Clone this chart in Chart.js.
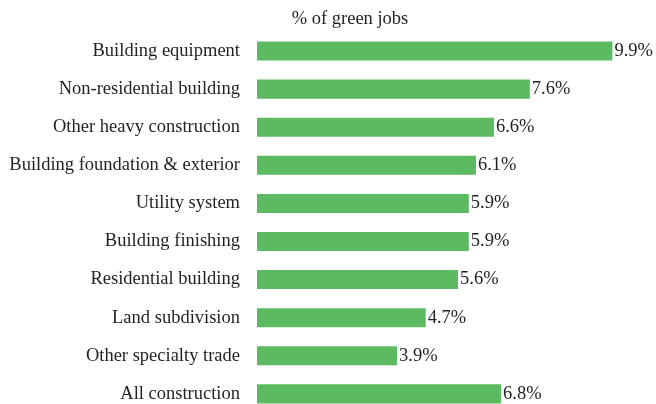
<!DOCTYPE html>
<html>
<head>
<meta charset="utf-8">
<script src="https://cdn.jsdelivr.net/npm/chart.js@4"></script>
<style>
  html, body { margin: 0; padding: 0; background: #fff; overflow: hidden; }
  /* taller than the window: the last bar is cut by the bottom edge, as in the source */
  #wrap { position: relative; width: 656px; height: 441px; }
</style>
</head>
<body>
<div id="wrap"><canvas id="chart"></canvas></div>
<script>
// chart data
const categories = [
    'Building equipment',
    'Non-residential building',
    'Other heavy construction',
    'Building foundation & exterior',
    'Utility system',
    'Building finishing',
    'Residential building',
    'Land subdivision',
    'Other specialty trade',
    'All construction'
];
const greenShare = [9.9, 7.6, 6.6, 6.1, 5.9, 5.9, 5.6, 4.7, 3.9, 6.8];
const valueLabels = ['9.9%', '7.6%', '6.6%', '6.1%', '5.9%', '5.9%', '5.6%', '4.7%', '3.9%', '6.8%'];
const chartTitle = '% of green jobs';

const FONT = '"Liberation Serif", "Times New Roman", serif';
const TEXT_COLOR = '#231f20';

// value labels at the end of each bar
const barLabels = {
    id: 'barLabels',
    afterDatasetsDraw(chart) {
        const ctx = chart.ctx;
        const meta = chart.getDatasetMeta(0);
        ctx.save();
        ctx.font = '18.5px ' + FONT;
        ctx.fillStyle = TEXT_COLOR;
        ctx.textAlign = 'left';
        ctx.textBaseline = 'middle';
        meta.data.forEach((bar, i) => {
            ctx.fillText(valueLabels[i], bar.x + 2, bar.y);
        });
        ctx.restore();
    }
};

// title sits a bit left of the plot centre
const topTitle = {
    id: 'topTitle',
    afterDraw(chart) {
        const ctx = chart.ctx;
        const area = chart.chartArea;
        ctx.save();
        ctx.font = '18.5px ' + FONT;
        ctx.fillStyle = TEXT_COLOR;
        ctx.textAlign = 'center';
        ctx.textBaseline = 'alphabetic';
        ctx.fillText(chartTitle, area.left + 93, area.top - 8);
        ctx.restore();
    }
};

const ctx = document.getElementById('chart').getContext('2d');
new Chart(ctx, {
    type: 'bar',
    data: {
        labels: categories,
        datasets: [{
            data: greenShare,
            backgroundColor: '#5cbb60',
            borderWidth: 0,
            barPercentage: 1,
            categoryPercentage: 0.5
        }]
    },
    options: {
        indexAxis: 'y',
        responsive: true,
        maintainAspectRatio: false,
        animation: false,
        layout: {
            padding: { left: 6, right: 40, top: 32, bottom: 7 }
        },
        plugins: {
            legend: { display: false },
            tooltip: { enabled: false }
        },
        scales: {
            x: {
                display: false,
                min: 0,
                max: 10
            },
            y: {
                grid: { display: false, drawTicks: false },
                border: { display: false },
                ticks: {
                    color: TEXT_COLOR,
                    font: { family: FONT, size: 18.5 },
                    padding: 17
                },
                afterFit(scale) {
                    scale.width = 251;
                }
            }
        }
    },
    plugins: [barLabels, topTitle]
});
</script>
</body>
</html>
